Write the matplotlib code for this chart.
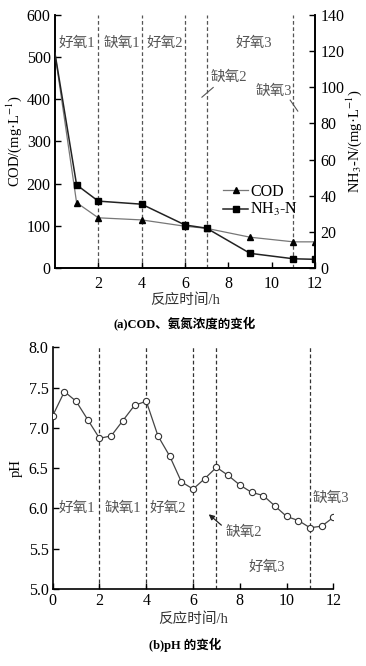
import numpy as np
import matplotlib
matplotlib.use("Agg")
import matplotlib.pyplot as plt

plt.rcParams['font.family'] = ['Liberation Serif', 'Noto Sans CJK SC']
plt.rcParams['font.size'] = 10
plt.rcParams['mathtext.fontset'] = 'stix'
plt.rcParams['axes.unicode_minus'] = False

# (a) COD and NH3-N
t_a = [0, 1, 2, 4, 6, 7, 9, 11, 12]
cod = [510, 155, 119, 114, 99, 94, 73, 62, 62]
nh3 = [119, 46, 37, 35.3, 23.8, 22, 8.1, 5.1, 4.8]

# (b) pH
t_b = [0, 0.5, 1, 1.5, 2, 2.5, 3, 3.5, 4, 4.5, 5, 5.5, 6, 6.5, 7, 7.5, 8,
       8.5, 9, 9.5, 10, 10.5, 11, 11.5, 12]
ph = [7.15, 7.45, 7.33, 7.1, 6.87, 6.9, 7.09, 7.28, 7.33, 6.9, 6.65, 6.33,
      6.24, 6.37, 6.51, 6.41, 6.29, 6.2, 6.16, 6.03, 5.9, 5.85, 5.76, 5.78,
      5.89]

phase_lines = [2, 4, 6, 7, 11]
txt_col = '#555555'

fig = plt.figure(figsize=(3.66, 6.66), dpi=100)

#################
# top chart (a) #
#################
ax1 = fig.add_axes([0.150, 0.5976, 0.711, 0.380])
ax2 = ax1.twinx()

for x in phase_lines:
    ax1.axvline(x, color='#555555', ls=(0, (3, 2)), lw=0.9, zorder=1)

#first point sits on the spine in the original, no marker drawn there
ax1.plot(t_a, cod, color='#777777', lw=0.9, marker='^', ms=4.5,
         mfc='black', mec='black', label='COD', zorder=3,
         markevery=list(range(1, len(t_a))))
ax2.plot(t_a, nh3, color='#222222', lw=1.1, marker='s', ms=4,
         mfc='black', mec='black', label='NH$_3$-N', zorder=3,
         markevery=list(range(1, len(t_a))))

ax1.set_xlim(0, 12)
ax1.set_ylim(0, 600)
ax2.set_ylim(0, 140)
ax1.set_xticks([2, 4, 6, 8, 10, 12])
ax1.set_yticks(range(0, 601, 100))
ax2.set_yticks(range(0, 141, 20))
ax1.set_xlabel('反应时间/h', color='#333333', labelpad=1, fontsize=10.5)
ax1.set_ylabel('COD/(mg·L$^{-1}$)', labelpad=2, fontsize=10.5)
ax2.set_ylabel('NH$_3$-N/(mg·L$^{-1}$)', rotation=90, labelpad=0,
               fontsize=10.5)
for a in (ax1, ax2):
    a.spines['top'].set_visible(False)
    a.tick_params(direction='in', length=4, width=1, labelsize=11.5, pad=3)
    for s in a.spines.values():
        s.set_linewidth(1.2)
ax1.tick_params(axis='x', pad=6)
ax2.tick_params(axis='y', pad=4)

ax1.text(1.0, 533, '好氧1', color=txt_col, ha='center', va='center', fontsize=10.5)
ax1.text(3.1, 533, '缺氧1', color=txt_col, ha='center', va='center', fontsize=10.5)
ax1.text(5.08, 533, '好氧2', color=txt_col, ha='center', va='center', fontsize=10.5)
ax1.text(9.2, 533, '好氧3', color=txt_col, ha='center', va='center', fontsize=10.5)
ax1.text(8.0, 452, '缺氧2', color=txt_col, ha='center', va='center', fontsize=10.5)
ax1.plot([6.78, 7.3], [405, 428], color=txt_col, lw=0.8)
ax1.text(10.1, 420, '缺氧3', color=txt_col, ha='center', va='center', fontsize=10.5)
ax1.plot([10.85, 11.2], [398, 372], color=txt_col, lw=0.8)

h1, l1 = ax1.get_legend_handles_labels()
h2, l2 = ax2.get_legend_handles_labels()
ax1.legend(h1 + h2, l1 + l2, loc='center', bbox_to_anchor=(0.79, 0.265),
           frameon=False, handlelength=1.6, handletextpad=0.1,
           labelspacing=0.1, fontsize=11.5)

fig.text(0.505, 0.515, '(a)COD、氨氮浓度的变化', ha='center', va='center',
         fontsize=9, fontweight='bold')

####################
# bottom chart (b) #
####################
ax3 = fig.add_axes([0.144, 0.1156, 0.767, 0.363])
for x in phase_lines:
    ax3.axvline(x, color='#333333', ls=(0, (3, 2)), lw=0.9, zorder=1)
ax3.plot(t_b, ph, color='#444444', lw=0.9, marker='o', ms=4.5,
         mfc='white', mec='#333333', mew=0.8, zorder=3)

ax3.set_xlim(0, 12)
ax3.set_ylim(5.0, 8.0)
ax3.set_xticks(range(0, 13, 2))
ax3.set_yticks(np.arange(5.0, 8.01, 0.5))
ax3.set_yticklabels(['%.1f' % v for v in np.arange(5.0, 8.01, 0.5)])
ax3.set_xlabel('反应时间/h', color='#333333', labelpad=2, fontsize=10.5)
ax3.set_ylabel('pH', labelpad=4, fontsize=10.5)
ax3.spines['top'].set_visible(False)
ax3.spines['right'].set_visible(False)
ax3.tick_params(direction='in', length=4, width=1, labelsize=11.5, pad=3)
for s in ax3.spines.values():
    s.set_linewidth(1.2)

ax3.text(1.03, 6.0, '好氧1', color=txt_col, ha='center', va='center', fontsize=10.5)
ax3.text(3.0, 6.0, '缺氧1', color=txt_col, ha='center', va='center', fontsize=10.5)
ax3.text(4.94, 6.0, '好氧2', color=txt_col, ha='center', va='center', fontsize=10.5)
ax3.text(8.15, 5.71, '缺氧2', color=txt_col, ha='center', va='center', fontsize=10.5)
ax3.annotate('', xy=(6.58, 5.95), xytext=(7.3, 5.77),
             arrowprops=dict(arrowstyle='-|>', color='#222222', lw=0.9,
                             mutation_scale=8))
ax3.text(9.15, 5.27, '好氧3', color=txt_col, ha='center', va='center', fontsize=10.5)
ax3.text(11.9, 6.12, '缺氧3', color=txt_col, ha='center', va='center', fontsize=10.5)

fig.text(0.505, 0.031, '(b)pH 的变化', ha='center', va='center', fontsize=9,
         fontweight='bold')

fig.savefig('out.png', dpi=100)
